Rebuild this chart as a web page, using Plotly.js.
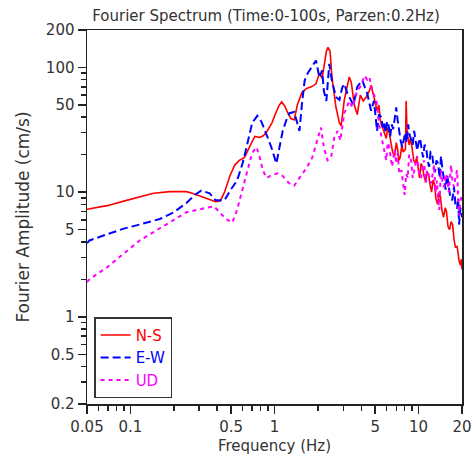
<!DOCTYPE html>
<html>
<head>
<meta charset="utf-8">
<script src="https://cdn.plot.ly/plotly-3.0.1.min.js"></script>
<style>html,body{margin:0;padding:0;background:#fff;}#chart{width:472px;height:462px;}</style>
</head>
<body>
<div id="chart"></div>
<script>
// N-S component
const nsFreq = [0.05,0.069,0.094,0.116,0.145,0.188,0.245,0.275,0.33,0.39,0.42,0.45,0.49,0.53,0.57,0.62,0.67,0.73,0.79,0.84,0.89,0.96,1.01,1.07,1.12,1.18,1.24,1.30,1.37,1.44,1.55,1.67,1.80,1.94,2.05,2.14,2.20,2.29,2.35,2.43,2.50,2.60,2.67,2.82,2.90,3.05,3.20,3.30,3.41,3.58,3.75,3.94,4.13,4.33,4.55,4.68,
  4.90,5.15,5.3,5.42,5.55,5.68,5.96,6.1,6.25,6.45,6.6,6.82,7.0,7.15,7.3,7.45,7.65,7.81,8.1,8.19,8.32,8.6,8.8,9.04,9.25,9.47,9.7,9.93,10.15,10.4,10.65,10.9,11.2,11.45,11.7,12.0,12.3,12.6,12.9,13.2,13.55,13.9,14.2,14.5,14.9,15.3,15.6,16.0,16.4,16.8,17.2,17.6,18.0,18.5,18.8,19.1,19.5,19.8,20];
const nsAmp  = [7.3,7.8,8.6,9.2,9.8,10.1,10.1,9.7,9.0,8.4,8.5,10,13.5,16.5,18,19,23,28,27.5,28.5,31,36,42,49,53,49,43,39,38,50,63,68,70,74,90,82,100,135,145,135,85,60,48,36,34,55,72,84,76,50,42,60,54,58,65,72,
  58,45,50,38,34,32,27,33,30,24,21,19.5,25,22,18,19,24,21,22,54,30,24,27,22,18,17,19,15.5,13,17,16,13.5,12,14.5,14,11.5,10,12.5,11.5,8.8,8,10,9,7.2,6.3,7.5,7,5.3,5,5.8,5.5,4.2,3.6,3.7,3.2,2.8,2.6,2.9,2.4];

// E-W component
const ewFreq = [0.05,0.052,0.069,0.09,0.116,0.136,0.16,0.20,0.245,0.283,0.31,0.355,0.39,0.45,0.50,0.55,0.60,0.64,0.67,0.70,0.76,0.81,0.88,0.95,1.03,1.08,1.14,1.21,1.27,1.37,1.44,1.49,1.55,1.62,1.70,1.83,1.94,2.05,2.14,2.20,2.29,2.40,2.50,2.67,2.82,2.95,3.05,3.20,3.36,3.53,3.75,3.94,4.07,4.26,4.40,4.55,4.68,4.90,
  5.15,5.3,5.5,5.65,5.77,5.9,6.05,6.2,6.35,6.5,6.66,6.85,6.99,7.15,7.33,7.5,7.69,7.9,8.07,8.25,8.46,8.65,8.87,9.1,9.31,9.55,9.77,10.0,10.24,10.5,10.74,11.0,11.27,11.55,11.82,12.1,12.4,12.7,13.0,13.3,13.65,14.0,14.3,14.65,15.0,15.4,15.75,16.1,16.5,17.1,17.6,18.0,18.5,18.8,19.1,19.5,20];
const ewAmp  = [3.9,4.1,4.6,5.1,5.5,5.8,6.1,6.9,8.2,9.6,10.3,9.8,8.6,8.6,10.6,12.4,17,23,28.6,36,41,37,29,23,17,23,31,38,43,44,36,31,51,79,90,104,114,83,95,65,54,107,79,58,55,69,74,62,55,50,70,76,79,68,62,52,45,54,
  31,42,40,33,36,30,37,34,28,35,32,40,48,38,30,26,23,28,30,25,35,29,26,24,31,25,21.6,25,27,22,19,24,23,18,16,21,20.6,16,14.5,18,17,13,19.5,15,12.4,10.5,14,11,9.5,8.6,11,8,7.4,9,5.5,7.5,6.3];

// UD component
const udFreq = [0.05,0.052,0.069,0.09,0.116,0.152,0.20,0.245,0.32,0.38,0.416,0.46,0.51,0.55,0.60,0.65,0.70,0.75,0.79,0.83,0.88,0.95,1.05,1.14,1.21,1.30,1.37,1.55,1.67,1.83,1.94,2.10,2.20,2.33,2.47,2.60,2.74,2.86,3.05,3.30,3.47,3.75,4.0,4.2,4.40,4.55,4.77,5.1,5.36,5.6,
  5.96,6.1,6.25,6.4,6.55,6.8,7.0,7.15,7.35,7.6,7.8,8.0,8.2,8.4,8.6,8.87,9.1,9.31,9.55,9.77,10.1,10.4,10.65,10.9,11.2,11.45,11.8,12.2,12.5,12.8,13.1,13.4,13.65,13.9,14.1,14.3,14.65,15.0,15.4,15.75,16.2,16.8,17.2,17.6,18.0,18.5,18.8,19.1,19.5,20];
const udAmp  = [1.9,2.0,2.5,3.2,4.1,4.95,5.95,6.9,7.4,7.7,6.9,6.1,5.7,7.2,10.6,15,20.6,23,19,15,13,13.7,14.2,13.5,12.4,11.5,11.3,13.9,15.7,19,24,33,23,18,19,27.5,31,26,43,54,48,65,72,86,80,84,65,54,33,26,
  18,25,23,19,16,22,17,20.6,14,15,12,9.5,14,13,20,18,13,15,17,19.5,14,13,16,18,12,15,13.5,11.8,14,16.5,10,12.4,9,7.2,11,15,12,11,14,13,10,16.5,12,11,13,15,9,6.5,8.5,9.5];

const xTickVals = [0.05,0.1,0.5,1,5,10,20];
const xTickText = ['0.05','0.1','0.5','1','5','10','20'];
const xMinor = [0.06,0.07,0.08,0.09,0.2,0.3,0.4,0.6,0.7,0.8,0.9,2,3,4,6,7,8,9];
const yTickVals = [0.2,0.5,1,5,10,50,100,200];
const yTickText = ['0.2','0.5','1','5','10','50','100','200'];
const yMinor = [0.3,0.4,0.6,0.7,0.8,0.9,2,3,4,6,7,8,9,20,30,40,60,70,80,90];

const FONT = 'DejaVu Sans, Verdana, sans-serif';

const traces = [
  {x: nsFreq, y: nsAmp, type: 'scatter', mode: 'lines',
   name: '<span style="color:#ff0000">N-S</span>',
   line: {color: '#ff0000', width: 1.6}},
  {x: ewFreq, y: ewAmp, type: 'scatter', mode: 'lines',
   name: '<span style="color:#0000ff">E-W</span>',
   line: {color: '#0000ff', width: 2, dash: '8px,4px'}},
  {x: udFreq, y: udAmp, type: 'scatter', mode: 'lines',
   name: '<span style="color:#ff00ff">UD</span>',
   line: {color: '#ff00ff', width: 2, dash: '4px,4px'}}
];

const axisCommon = {
  type: 'log', showgrid: false, zeroline: false,
  showline: true, mirror: true, linecolor: '#222', linewidth: 1.5,
  ticks: 'outside', ticklen: 8, tickwidth: 1.5, tickcolor: '#222',
  tickfont: {family: FONT, size: 15, color: '#333'},
  tickmode: 'array'
};

const layout = {
  width: 472, height: 462,
  margin: {l: 87, r: 10, t: 30, b: 58, pad: 0},
  paper_bgcolor: '#fff', plot_bgcolor: '#fff',
  title: {text: 'Fourier Spectrum (Time:0-100s, Parzen:0.2Hz)',
          font: {family: FONT, size: 15, color: '#333'},
          xref: 'container', x: 0.5636, xanchor: 'center',
          yref: 'container', y: 0.966, yanchor: 'middle'},
  xaxis: Object.assign({}, axisCommon, {
    range: [Math.log10(0.05), Math.log10(20)],
    tickvals: xTickVals, ticktext: xTickText,
    minor: {tickmode: 'array', tickvals: xMinor, ticks: 'outside', ticklen: 5, tickwidth: 1.5, tickcolor: '#222', showgrid: false},
    title: {text: 'Frequency (Hz)', font: {family: FONT, size: 15, color: '#333'}, standoff: 6}
  }),
  yaxis: Object.assign({}, axisCommon, {
    range: [Math.log10(0.2), Math.log10(200)],
    tickvals: yTickVals, ticktext: yTickText,
    minor: {tickmode: 'array', tickvals: yMinor, ticks: 'outside', ticklen: 5, tickwidth: 1.5, tickcolor: '#222', showgrid: false},
    title: {text: 'Fourier Amplitude (cm/s)', font: {family: FONT, size: 17, color: '#333'}, standoff: 12}
  }),
  showlegend: true,
  legend: {x: 0.019, y: 0.232, xanchor: 'left', yanchor: 'top',
           bgcolor: '#fff', bordercolor: '#333', borderwidth: 1.5,
           font: {family: FONT, size: 15}, tracegroupgap: 0}
};

Plotly.newPlot('chart', traces, layout, {displayModeBar: false, staticPlot: true});
</script>
</body>
</html>
